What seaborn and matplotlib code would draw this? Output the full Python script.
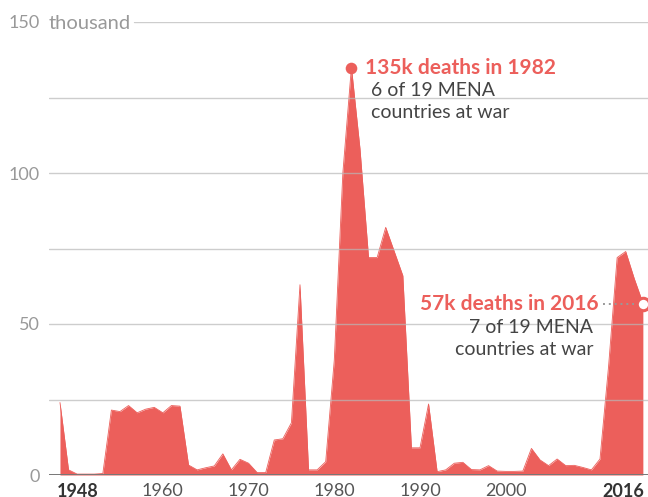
import matplotlib
matplotlib.use("Agg")
import matplotlib.pyplot as plt
import matplotlib.transforms as mtransforms
import seaborn as sns
import pandas as pd

years = list(range(1948, 2017))
deaths_k = [
    24, 1.7, 0.3, 0.3, 0.3, 0.5, 21.5, 21, 23, 20.6,   # 1948-1957
    21.8, 22.4, 20.6, 23, 22.8, 3.3, 1.7, 2.4, 3.0, 7.0,  # 1958-1967
    1.7, 5.2, 3.9, 0.8, 0.8, 11.6, 12, 17.3, 63, 1.7,    # 1968-1977
    1.7, 4.4, 38, 100, 135, 108, 72, 72, 82, 74,         # 1978-1987
    66, 9, 9, 23.5, 1.1, 1.7, 3.9, 4.2, 1.8, 1.7,        # 1988-1997
    3.1, 1.3, 1.2, 1.2, 1.3, 8.8, 5.0, 3.1, 5.3, 3.1,    # 1998-2007
    3.2, 2.5, 1.7, 5.3, 36, 72, 74, 65, 57,              # 2008-2016
]
y_ticks = [0, 50, 100, 150]
grid_vals = [0, 25, 50, 75, 100, 125, 150]
x_ticks = [1948, 1960, 1970, 1980, 1990, 2000, 2016]
bold_ticks = [1948, 2016]

df = pd.DataFrame({"year": years, "deaths": deaths_k})

sns.set_theme(style="white")
plt.rcParams["font.family"] = ["Lato", "DejaVu Sans"]

RED = "#ec5f5b"
W, H = 648, 497
fig = plt.figure(figsize=(W / 100, H / 100), dpi=100)
ax = fig.add_axes([49 / W, (H - 475) / H, (648 - 49) / W, (475 - 22) / H])
ax.set_xlim(1946.72, 2016.6)
ax.set_ylim(0, 150)

sns.lineplot(data=df, x="year", y="deaths", ax=ax, color=RED, linewidth=0.6, zorder=2)
ax.fill_between(df["year"], df["deaths"], 0, color=RED, linewidth=0, zorder=2)

# gridlines drawn over the area
for g in grid_vals:
    if g == 0:
        continue
    xmin = (134 - 49) / (648 - 49) if g == 150 else 0
    ax.axhline(g, xmin=xmin, xmax=1, color="#b8b8b8", alpha=0.7, lw=1.0, zorder=3)
ax.axhline(0, color="#777777", lw=1.4, zorder=4)

for s in ax.spines.values():
    s.set_visible(False)
ax.set_xticks([])
ax.set_yticks([])
ax.set_xlabel("")
ax.set_ylabel("")

# y labels
ytr = mtransforms.offset_copy(ax.get_yaxis_transform(), fig=fig, x=-9, y=0, units="dots")
for v in y_ticks:
    ax.text(0, v, str(v), transform=ytr, ha="right", va="center_baseline",
            fontsize=13, color="#999999")
ax.text(0, 150, "thousand", transform=ax.get_yaxis_transform(),
        ha="left", va="center_baseline", fontsize=14.5, color="#999999")

# x labels
xtr = mtransforms.offset_copy(ax.get_xaxis_transform(), fig=fig, x=0, y=-8, units="dots")
for v in x_ticks:
    bold = v in bold_ticks
    ha = "center"
    dx = 0
    if v == 1948:
        ha = "left"; dx = -0.35
    elif v == 2016:
        ha = "right"; dx = 0.2
    ax.text(v + dx, 0, str(v), transform=xtr, ha=ha, va="top", fontsize=13,
            fontweight="bold" if bold else "normal",
            color="#333333" if bold else "#555555", clip_on=False)

# annotation 1982
ax.scatter([1982], [134.7], s=70, color=RED, zorder=6, linewidths=0)
ax.text(1983.6, 134.7, "135k deaths in 1982", ha="left", va="center", fontsize=15,
        fontweight="bold", color=RED)
ax.text(1984.3, 130.0, "6 of 19 MENA\ncountries at war", ha="left", va="top", fontsize=14,
        color="#444444", linespacing=1.35)

# annotation 2016
ax.plot([2011.3, 2015.0], [56.5, 56.5], ls=(0, (1, 2)), color="#999999", lw=1.4, zorder=5)
ax.scatter([2016], [56.5], s=80, facecolor="white", edgecolor=RED, linewidths=2.2,
           zorder=6, clip_on=False)
ax.text(2010.8, 56.5, "57k deaths in 2016", ha="right", va="center", fontsize=15,
        fontweight="bold", color=RED)
ax.text(2010.2, 51.6, "7 of 19 MENA\ncountries at war", ha="right", va="top", fontsize=14,
        color="#444444", linespacing=1.35, multialignment="right")

fig.savefig("out.png", dpi=100)
